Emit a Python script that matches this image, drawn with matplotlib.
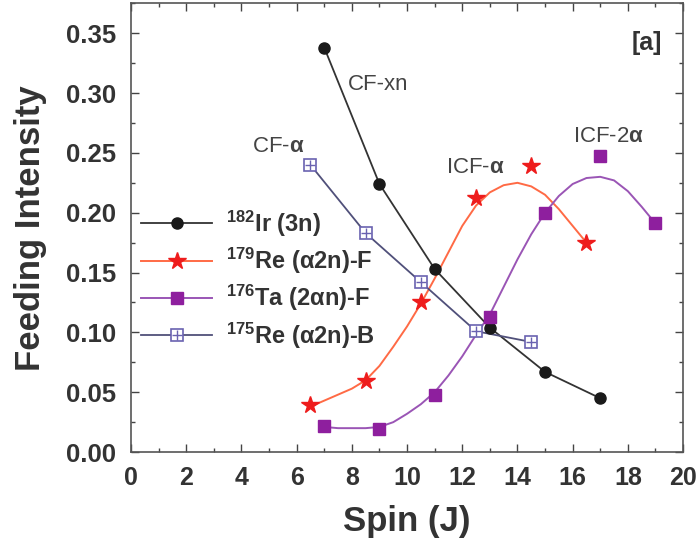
import matplotlib
matplotlib.use("Agg")
import matplotlib.pyplot as plt
from matplotlib.legend_handler import HandlerTuple
from matplotlib.ticker import MultipleLocator

plt.rcParams['font.family'] = ['Liberation Sans', 'DejaVu Sans']
plt.rcParams['mathtext.fontset'] = 'custom'
plt.rcParams['mathtext.rm'] = 'Liberation Sans'
plt.rcParams['mathtext.bf'] = 'Liberation Sans:bold'
plt.rcParams['mathtext.it'] = 'Liberation Sans:italic'

# 182Ir (3n)
ir_x = [7, 9, 11, 13, 15, 17]
ir_y = [0.338, 0.224, 0.153, 0.104, 0.067, 0.045]

# 179Re (a2n)-F
reF_x = [6.5, 8.5, 10.5, 12.5, 14.5, 16.5]
reF_y = [0.039, 0.059, 0.125, 0.212, 0.239, 0.175]
reF_fit_x = [6.5, 7.0, 7.5, 8.0, 8.5, 9.0, 9.5, 10.0, 10.5, 11.0, 11.5, 12.0,
             12.5, 13.0, 13.5, 14.0, 14.5, 15.0, 15.5, 16.0, 16.5]
reF_fit_y = [0.038, 0.043, 0.048, 0.053, 0.060, 0.072, 0.088, 0.105, 0.124,
             0.145, 0.167, 0.189, 0.206, 0.217, 0.223, 0.225, 0.222, 0.215,
             0.203, 0.189, 0.175]

# 176Ta (2an)-F
ta_x = [7, 9, 11, 13, 15, 17, 19]
ta_y = [0.022, 0.019, 0.048, 0.113, 0.200, 0.247, 0.191]
ta_fit_x = [7.0, 7.5, 8.0, 8.5, 9.0, 9.5, 10.0, 10.5, 11.0, 11.5, 12.0, 12.5,
            13.0, 13.5, 14.0, 14.5, 15.0, 15.5, 16.0, 16.5, 17.0, 17.5, 18.0,
            18.5, 19.0]
ta_fit_y = [0.021, 0.020, 0.020, 0.020, 0.021, 0.025, 0.032, 0.040, 0.050,
            0.064, 0.080, 0.098, 0.115, 0.138, 0.161, 0.182, 0.200, 0.214,
            0.224, 0.229, 0.230, 0.227, 0.218, 0.205, 0.191]

# 175Re (a2n)-B
reB_x = [6.5, 8.5, 10.5, 12.5, 14.5]
reB_y = [0.240, 0.183, 0.142, 0.101, 0.092]

labels = [r'$^{\mathbf{182}}$Ir (3n)', r'$^{\mathbf{179}}$Re (α2n)-F',
          r'$^{\mathbf{176}}$Ta (2αn)-F', r'$^{\mathbf{175}}$Re (α2n)-B']

fig = plt.figure(figsize=(6.97, 5.46), dpi=100)
ax = fig.add_axes([0.188, 0.172, 0.792, 0.822])

c_black = '#1a1a1a'
c_red_line = '#ff6a45'
c_red = '#ee1c1c'
c_purple = '#8e1f9e'
c_purple_line = '#9a55b5'
c_blue = '#6a62b0'
c_blue_line = '#50507a'

ax.plot(ir_x, ir_y, '-', color='#333333', lw=1.3, zorder=2)
h1, = ax.plot(ir_x, ir_y, 'o', color=c_black, ms=8, zorder=3)

ax.plot(reF_fit_x, reF_fit_y, '-', color=c_red_line, lw=1.4, zorder=2)
h2, = ax.plot(reF_x, reF_y, '*', color=c_red, ms=13, zorder=3)

ax.plot(ta_fit_x, ta_fit_y, '-', color=c_purple_line, lw=1.4, zorder=2)
h3, = ax.plot(ta_x, ta_y, 's', color=c_purple, ms=8, zorder=3)

ax.plot(reB_x, reB_y, '-', color=c_blue_line, lw=1.3, zorder=2)
h4a, = ax.plot(reB_x, reB_y, 's', mfc='white', mec=c_blue, mew=1.2, ms=8, zorder=3)
h4b, = ax.plot(reB_x, reB_y, '+', color=c_blue, mew=1.0, ms=7, zorder=4)

# legend handles (line + marker)
l1, = ax.plot([], [], '-', color='#333333', lw=1.3)
l2, = ax.plot([], [], '-', color=c_red_line, lw=1.4)
l3, = ax.plot([], [], '-', color=c_purple_line, lw=1.4)
l4, = ax.plot([], [], '-', color=c_blue_line, lw=1.3)

leg = ax.legend([(l1, h1), (l2, h2), (l3, h3), (l4, h4a, h4b)], labels,
                handler_map={tuple: HandlerTuple(ndivide=1, pad=0)},
                loc='upper left', bbox_to_anchor=(-0.02, 0.59), frameon=False,
                handlelength=3.0, handletextpad=0.6, labelspacing=0.3,
                prop={'weight': 'bold', 'size': 17})
for t in leg.get_texts():
    t.set_color('#333333')

ax.set_xlim(0, 20)
ax.set_ylim(0, 0.375)
ax.xaxis.set_major_locator(MultipleLocator(2))
ax.xaxis.set_minor_locator(MultipleLocator(1))
ax.yaxis.set_minor_locator(MultipleLocator(0.025))
ax.tick_params(which='both', direction='in', top=True, right=True,
               colors='#444444', labelcolor='#333333')
ax.tick_params(which='major', length=6, width=1)
ax.tick_params(which='minor', length=3, width=1)
ax.tick_params(axis='x', labelsize=18, pad=10)
ax.tick_params(axis='y', labelsize=18.5, pad=11)
ax.set_yticks([0, 0.05, 0.10, 0.15, 0.20, 0.25, 0.30, 0.35])
ax.set_yticklabels(['0.00', '0.05', '0.10', '0.15', '0.20', '0.25', '0.30', '0.35'],
                   fontweight='bold')
for lab in ax.get_xticklabels():
    lab.set_fontweight('bold')
for s in ax.spines.values():
    s.set_color('#555555')
    s.set_linewidth(1.2)

ax.set_xlabel('Spin (J)', fontsize=25, fontweight='bold', color='#333333', labelpad=11)
ax.set_ylabel('Feeding Intensity', fontsize=25, fontweight='bold', color='#333333', labelpad=13)

ann_kw = dict(fontsize=16, color='#444444', va='center', ha='left')
ax.text(7.85, 0.307, 'CF-xn', **ann_kw)
ax.text(4.4, 0.255, r'CF-$\mathbf{α}$', **ann_kw)
ax.text(11.4, 0.238, r'ICF-$\mathbf{α}$', **ann_kw)
ax.text(16.0, 0.264, r'ICF-2$\mathbf{α}$', **ann_kw)
ax.text(19.25, 0.342, '[a]', fontsize=18, fontweight='bold', color='#333333',
        va='center', ha='right')

fig.savefig('out.png', dpi=100)
